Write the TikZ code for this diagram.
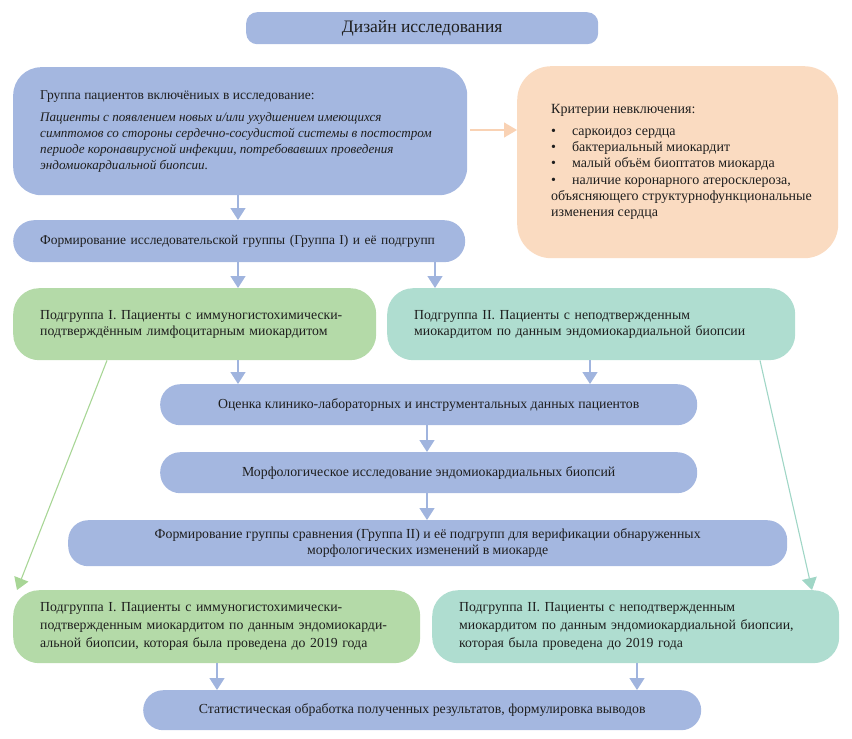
\documentclass[tikz,border=0pt]{standalone}
\usepackage{fontspec}
\setmainfont{Liberation Serif}
\usetikzlibrary{arrows.meta,calc}
\definecolor{cblue}{RGB}{164,183,224}
\definecolor{cablue}{RGB}{160,180,222}
\definecolor{cgreen}{RGB}{180,218,168}
\definecolor{cgline}{RGB}{168,214,150}
\definecolor{cteal}{RGB}{175,221,208}
\definecolor{ctline}{RGB}{160,214,198}
\definecolor{corange}{RGB}{250,219,193}
\definecolor{caorange}{RGB}{249,210,180}
\definecolor{ctext}{RGB}{30,30,30}
\begin{document}
\begin{tikzpicture}[x=1pt,y=1pt,
  box/.style={rectangle, rounded corners=#1, draw=none, anchor=north west, text=ctext, font=\fontsize{13.8}{17}\selectfont, inner ysep=2pt},
  box/.default=20pt,
  lbox/.style={box=#1, align=left, inner xsep=27pt},
  lbox/.default=24pt,
  cbox/.style={box=#1, align=center},
  cbox/.default=20pt,
  arr/.style={draw=cablue, line width=1.5pt, -{Triangle[width=15pt,length=12pt]}},
]
\path[use as bounding box] (0,0) rectangle (852,-739);

\node[cbox=11pt, fill=cblue, minimum width=352, minimum height=32, font=\fontsize{17.5}{20}\selectfont] (title) at (246,-12) {Дизайн исследования};

\node[box=28pt, fill=cblue, minimum width=454, minimum height=128, inner xsep=0pt, font=\fontsize{13.5}{16}\selectfont] (incl) at (13,-67)
 {\hspace*{27pt}\parbox{427pt}{\raggedright Группа пациентов включёниых в исследование:\\[6pt]
 {\fontsize{13.1}{16}\selectfont\itshape Пациенты с появлением новых и/или ухудшением имеющихся\\
 симптомов со стороны сердечно-сосудистой системы в постостром\\
 периоде коронавирусной инфекции, потребовавших проведения\\
 эндомиокардиальной биопсии.}}};

\node[box=34pt, fill=corange, minimum width=321, minimum height=192, inner xsep=0pt, font=\fontsize{14}{16.3}\selectfont] (excl) at (517,-66)
 {\hspace*{34pt}\parbox{287pt}{\raggedright Критерии невключения:\\[5pt]
 \textbullet\hspace{16pt}саркоидоз сердца\\
 \textbullet\hspace{16pt}бактериальный миокардит\\
 \textbullet\hspace{16pt}малый объём биоптатов миокарда\\
 \textbullet\hspace{16pt}наличие коронарного атеросклероза,\\
 объясняющего структурнофункциональные\\
 изменения сердца}};

\node[lbox=21pt, fill=cblue, minimum width=452, minimum height=42, text width=398, font=\fontsize{13.5}{16}\selectfont] (form1) at (13,-220)
 {Формирование исследовательской группы (Группа I) и её подгрупп};

\node[lbox=26pt, fill=cgreen, minimum width=363, minimum height=72, text width=309, font=\fontsize{13.8}{16.5}\selectfont] (sub1) at (13,-288)
 {Подгруппа I. Пациенты с иммуногистохимически-\\подтверждённым лимфоцитарным миокардитом};

\node[lbox=26pt, fill=cteal, minimum width=408, minimum height=72, text width=354, font=\fontsize{13.8}{16.5}\selectfont] (sub2) at (387,-288)
 {Подгруппа II. Пациенты с неподтвержденным\\миокардитом по данным эндомиокардиальной биопсии};

\node[cbox, fill=cblue, minimum width=537, minimum height=41] (eval) at (160,-384)
 {Оценка клинико-лабораторных и инструментальных данных пациентов};

\node[cbox, fill=cblue, minimum width=537, minimum height=41] (morph) at (160,-452)
 {Морфологическое исследование эндомиокардиальных биопсий};

\node[cbox, fill=cblue, minimum width=719, minimum height=46, font=\fontsize{13.8}{16}\selectfont] (form2) at (68,-520)
 {Формирование группы сравнения (Группа II) и её подгрупп для верификации обнаруженных\\морфологических изменений в миокарде};

\node[lbox=26pt, fill=cgreen, minimum width=407, minimum height=73, text width=353, font=\fontsize{13.8}{18}\selectfont] (bsub1) at (13,-590)
 {Подгруппа I. Пациенты с иммуногистохимически-\\подтвержденным миокардитом по данным эндомиокарди-\\альной биопсии, которая была проведена до 2019 года};

\node[lbox=26pt, fill=cteal, minimum width=407, minimum height=73, text width=353, font=\fontsize{13.8}{18}\selectfont] (bsub2) at (432,-590)
 {Подгруппа II. Пациенты с неподтвержденным\\миокардитом по данным эндомиокардиальной биопсии,\\которая была проведена до 2019 года};

\node[cbox, fill=cblue, minimum width=558, minimum height=40] (stat) at (143,-690)
 {Статистическая обработка полученных результатов, формулировка выводов};

% x positions
\coordinate (xa) at (238,0);
\coordinate (xb) at (435,0);
\coordinate (xc) at (590,0);
\coordinate (xd) at (427,0);
\coordinate (xe) at (217,0);
\coordinate (xf) at (637,0);
\coordinate (g1) at (107,0);
\coordinate (g2) at (17,0);
\coordinate (t1) at (760,0);
\coordinate (t2) at (812,0);
\coordinate (ya) at (0,-130);

\draw[arr] (incl.south -| xa) -- (form1.north -| xa);
\draw[arr] (form1.south -| xa) -- (sub1.north -| xa);
\draw[arr] (form1.south -| xb) -- (sub2.north -| xb);
\draw[arr] (sub1.south -| xa) -- (eval.north -| xa);
\draw[arr] (sub2.south -| xc) -- (eval.north -| xc);
\draw[arr] (eval.south -| xd) -- (morph.north -| xd);
\draw[arr] (morph.south -| xd) -- (form2.north -| xd);
\draw[arr] (bsub1.south -| xe) -- (stat.north -| xe);
\draw[arr] (bsub2.south -| xf) -- (stat.north -| xf);
\draw[draw=caorange, line width=1.3pt, -{Triangle[width=15pt,length=13pt]}] ([xshift=3pt]incl.east |- ya) -- (excl.west |- ya);
\draw[draw=cgline, line width=1.1pt, -{Triangle[width=15pt,length=12pt]}] (sub1.south -| g1) -- (bsub1.north -| g2);
\draw[draw=ctline, line width=1.1pt, -{Triangle[width=15pt,length=12pt]}] (sub2.south -| t1) -- (bsub2.north -| t2);
\end{tikzpicture}
\end{document}
